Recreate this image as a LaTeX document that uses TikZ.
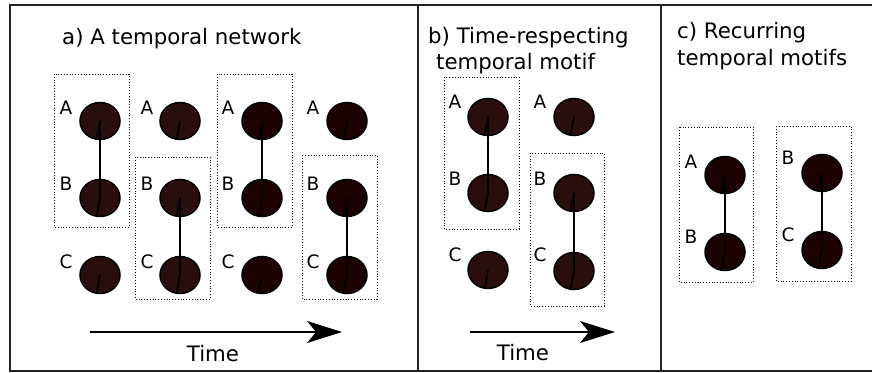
\documentclass[tikz,border=0pt]{standalone}
\usepackage{fontspec}
\setmainfont{DejaVu Sans}
\usetikzlibrary{shapes.geometric,arrows.meta}
\definecolor{nodeA}{HTML}{2A0D0D}
\definecolor{nodeB}{HTML}{1C0202}
\definecolor{framec}{HTML}{222222}
\tikzset{
  vert/.style={ellipse,draw=black,line width=1.5pt,fill=nodeA,minimum width=40pt,minimum height=37pt,inner sep=0pt},
  vertd/.style={vert,fill=nodeB},
  lab/.style={font=\fontsize{18.5}{18.5}\selectfont,inner sep=0pt,anchor=center},
  ttl/.style={font=\fontsize{21.3}{26}\selectfont,inner sep=0pt,anchor=base west},
  edgeline/.style={line width=1.8pt,black},
  tickline/.style={line width=1.8pt,black},
  motifbox/.style={dotted,line width=0.8pt,black},
  timearrow/.style={line width=1.8pt,-{Stealth[length=35pt,width=22pt,inset=9pt]}},
  framel/.style={line width=2pt,framec}
}
\begin{document}
\begin{tikzpicture}[x=1pt,y=-1pt]
\useasboundingbox (0,0) rectangle (872,372);
% frame
\draw[framel] (872,5) -- (10,5) -- (10,371) -- (872,371);
\draw[framel] (418,5) -- (418,371);
\draw[framel] (661,5) -- (661,371);
% titles
\node[ttl] (ta) at (62,44) {a) A temporal network};
\node[ttl] (tb1) at (428,43) {b) Time-respecting};
\node[ttl] (tb2) at (436,69) {temporal motif};
\node[ttl] (tc1) at (677,38) {c) Recurring};
\node[ttl] (tc2) at (677,65) {temporal motifs};
% panel a boxes
\draw[motifbox] (54,74) rectangle (129,227);
\draw[motifbox] (135,157) rectangle (210,299);
\draw[motifbox] (217,74) rectangle (292,227);
\draw[motifbox] (302,155) rectangle (377,299);
% panel a nodes
\node[vert] (a1A) at (100,121) {};
\node[vert] (a1B) at (100,198) {};
\node[vert] (a1C) at (100,275) {};
\node[vert] (a2A) at (180,121) {};
\node[vert] (a2B) at (180,198) {};
\node[vert] (a2C) at (180,275) {};
\node[vertd] (a3A) at (262,121) {};
\node[vertd] (a3B) at (262,198) {};
\node[vertd] (a3C) at (262,275) {};
\node[vertd] (a4A) at (347,121) {};
\node[vertd] (a4B) at (347,198) {};
\node[vertd] (a4C) at (347,275) {};
% panel a labels
\node[lab] (la1A) at (66,107.5) {A};
\node[lab] (la1B) at (66,184) {B};
\node[lab] (la1C) at (66,262) {C};
\node[lab] (la2A) at (147,107.5) {A};
\node[lab] (la2B) at (147,184) {B};
\node[lab] (la2C) at (147,262) {C};
\node[lab] (la3A) at (228,107.5) {A};
\node[lab] (la3B) at (228,184) {B};
\node[lab] (la3C) at (228,262) {C};
\node[lab] (la4A) at (313,107.5) {A};
\node[lab] (la4B) at (313,184) {B};
\node[lab] (la4C) at (313,262) {C};
% panel b boxes
\draw[motifbox] (444,77) rectangle (519,229);
\draw[motifbox] (530,153) rectangle (604,306);
% panel b nodes
\node[vert] (b1A) at (488,117) {};
\node[vert] (b1B) at (488,193) {};
\node[vert] (b1C) at (488,270) {};
\node[vert] (b2A) at (574,117) {};
\node[vert] (b2B) at (574,193) {};
\node[vert] (b2C) at (574,271) {};
\node[lab] (lb1A) at (455,102) {A};
\node[lab] (lb1B) at (455,179) {B};
\node[lab] (lb1C) at (455,255) {C};
\node[lab] (lb2A) at (540,102) {A};
\node[lab] (lb2B) at (540,179) {B};
\node[lab] (lb2C) at (540,255) {C};
% panel c boxes
\draw[motifbox] (679,127) rectangle (753,282);
\draw[motifbox] (776,126) rectangle (851,281);
\node[vertd] (c1A) at (725,175) {};
\node[vertd] (c1B) at (725,252) {};
\node[vertd] (c2B) at (822,173) {};
\node[vertd] (c2C) at (822,250) {};
\node[lab] (lc1A) at (691,162) {A};
\node[lab] (lc1B) at (691,237) {B};
\node[lab] (lc2B) at (788,158) {B};
\node[lab] (lc2C) at (788,235) {C};
% edges
\draw[edgeline] (a1A.center) -- (a1B.center);
\draw[edgeline] (a2B.center) -- (a2C.center);
\draw[edgeline] (a3A.center) -- (a3B.center);
\draw[edgeline] (a4B.center) -- (a4C.center);
\draw[edgeline] (b1A.center) -- (b1B.center);
\draw[edgeline] (b2B.center) -- (b2C.center);
\draw[edgeline] (c1A.center) -- (c1B.center);
\draw[edgeline] (c2B.center) -- (c2C.center);
% ticks
\foreach \n in {a1A,a1B,a1C,a2A,a2B,a2C,a3A,a3B,a3C,a4A,a4B,a4C,b1A,b1B,b1C,b2A,b2B,b2C,c1A,c1B,c2B,c2C}
  \draw[tickline] (\n.center) -- ([xshift=-3.5pt,yshift=1pt]\n.south);
% time arrows
\coordinate (ta0) at (90,332);
\coordinate (ta1) at (342,332);
\draw[timearrow] (ta0) -- (ta1);
\node[ttl,anchor=base] (timea) at (213,361) {Time};
\coordinate (tb0) at (470,332);
\coordinate (tb1e) at (615,332);
\draw[timearrow] (tb0) -- (tb1e);
\node[ttl,anchor=base] (timeb) at (523,360) {Time};
\end{tikzpicture}
\end{document}
